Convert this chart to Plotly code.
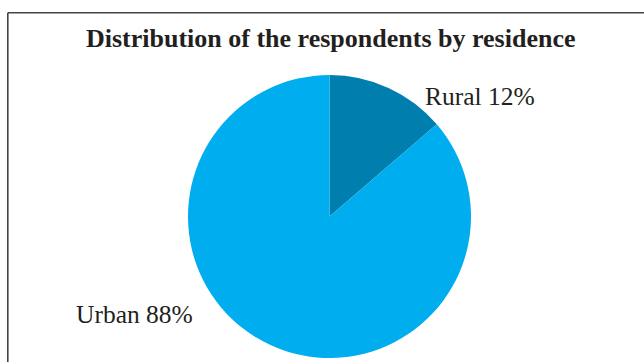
import plotly.graph_objects as go

# Data
categories = ["Rural", "Urban"]
slice_shares = [13.7, 86.3]          # slice sizes as drawn
printed_percent = ["12%", "88%"]     # percentages printed on the labels
title_text = "Distribution of the respondents by residence"

W, H = 644, 362
colors = ["#007EAE", "#00AEEF"]
text_color = "#231F20"
serif = "Liberation Serif, Times New Roman, serif"

# Pie geometry (pixels)
cx, cy, r = 329.5, 216.5, 141.5

fig = go.Figure(go.Pie(
    labels=categories,
    values=slice_shares,
    sort=False,
    direction="clockwise",
    rotation=0,
    marker=dict(colors=colors, line=dict(width=0)),
    textinfo="none",
    hoverinfo="label+percent",
    showlegend=False,
    domain=dict(x=[(cx - r) / W, (cx + r) / W],
                y=[(H - cy - r) / H, (H - cy + r) / H]),
))

label_pos = {"Rural": (423, 97), "Urban": (74, 314)}
annotations = [
    dict(text=f"<b>{title_text}</b>", x=330 / W, y=1 - 38.5 / H,
         xref="paper", yref="paper", xanchor="center", yanchor="middle",
         showarrow=False, font=dict(family=serif, size=26, color=text_color)),
]
for cat, pct in zip(categories, printed_percent):
    px, py = label_pos[cat]
    annotations.append(dict(
        text=f"{cat} {pct}", x=px / W, y=1 - py / H,
        xref="paper", yref="paper", xanchor="left", yanchor="middle",
        showarrow=False, font=dict(family=serif, size=25.5, color=text_color)))

top_y = 1 - 12.8 / H
left_x = 7.8 / W
shapes = [
    dict(type="line", xref="paper", yref="paper", x0=left_x, x1=1.0, y0=top_y, y1=top_y,
         line=dict(color="#444444", width=1.6)),
    dict(type="line", xref="paper", yref="paper", x0=left_x, x1=left_x, y0=0, y1=top_y,
         line=dict(color="#444444", width=1.6)),
]

fig.update_layout(
    width=W, height=H,
    margin=dict(l=0, r=0, t=0, b=0),
    paper_bgcolor="white", plot_bgcolor="white",
    annotations=annotations,
    shapes=shapes,
)

fig.write_html(
    "out.html",
    config={"displayModeBar": False},
    post_script="document.body.style.margin='0';document.body.style.overflow='hidden';",
)
